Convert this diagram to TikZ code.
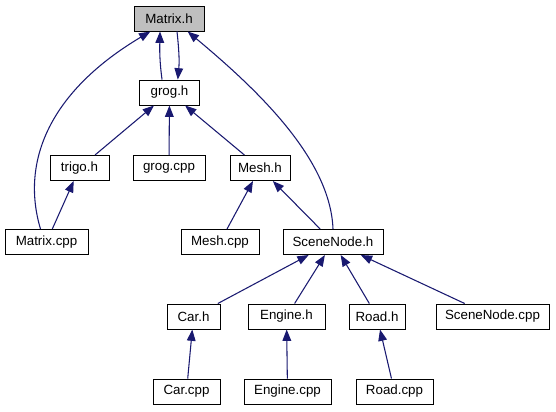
\documentclass[tikz,border=0pt]{standalone}
\usepackage{fontspec}
\setmainfont{Liberation Sans}
\usetikzlibrary{arrows.meta}
\definecolor{edgeblue}{RGB}{25,25,112}
\definecolor{rootgray}{RGB}{191,191,191}
\begin{document}
\begin{tikzpicture}[x=0.75pt,y=-0.75pt,
  file/.style={draw=black,line width=0.75pt,fill=white,inner sep=0pt,
    minimum height=18.75pt,font=\fontsize{10}{12}\selectfont},
  root/.style={file,fill=rootgray},
  dep/.style={draw=edgeblue,line width=0.8pt,
    -{Triangle[length=8.5pt,width=6.5pt]}}]
\useasboundingbox (0,0) rectangle (556,411);

% header files and sources
\node[root,minimum width=52.5pt]  (matrixh)  at (169,18.5)   {Matrix.h};
\node[file,minimum width=45pt]    (grogh)    at (169.5,92.5) {grog.h};
\node[file,minimum width=44.25pt] (trigoh)   at (79.5,168)   {trigo.h};
\node[file,minimum width=54pt]    (grogcpp)  at (169,168)    {grog.cpp};
\node[file,minimum width=45pt]    (meshh)    at (260,168)    {Mesh.h};
\node[file,minimum width=62.25pt] (matrixcpp) at (46.5,242)  {Matrix.cpp};
\node[file,minimum width=58.5pt]  (meshcpp)  at (220,242)    {Mesh.cpp};
\node[file,minimum width=75pt]    (sceneh)   at (333,242)    {SceneNode.h};
\node[file,minimum width=39.75pt] (carh)     at (193.5,316.5) {Car.h};
\node[file,minimum width=57.75pt] (engineh)  at (286.5,316.5) {Engine.h};
\node[file,minimum width=42pt]    (roadh)    at (377,316.5)  {Road.h};
\node[file,minimum width=84.75pt] (scenecpp) at (492.5,316.5) {SceneNode.cpp};
\node[file,minimum width=50.25pt] (carcpp)   at (186.5,391.5) {Car.cpp};
\node[file,minimum width=65.25pt] (enginecpp) at (287.5,391.5) {Engine.cpp};
\node[file,minimum width=57.75pt] (roadcpp)  at (394.5,391.5) {Road.cpp};

% include relations
\draw[dep] ([xshift=-5.6pt]grogh.north) .. controls ([xshift=-7.5pt,yshift=14pt]grogh.north) and ([xshift=-7pt,yshift=-14pt]matrixh.south) .. ([xshift=-6.75pt]matrixh.south);
\draw[dep] ([xshift=6pt]matrixh.south) .. controls ([xshift=7.5pt,yshift=-14pt]matrixh.south) and ([xshift=7.5pt,yshift=14pt]grogh.north) .. ([xshift=6.2pt]grogh.north);
\draw[dep] ([xshift=-4.5pt]matrixcpp.north) .. controls ([xshift=-20pt,yshift=52pt]matrixcpp.north) and ([xshift=-88pt,yshift=-44pt]matrixh.south) .. ([xshift=-14pt]matrixh.south);
\draw[dep] (sceneh.north) .. controls ([xshift=-2pt,yshift=52pt]sceneh.north) and ([xshift=68pt,yshift=-45pt]matrixh.south) .. ([xshift=14pt]matrixh.south);
\draw[dep] (trigoh) -- (grogh);
\draw[dep] (grogcpp) -- (grogh);
\draw[dep] (meshh) -- (grogh);
\draw[dep] (matrixcpp) -- (trigoh);
\draw[dep] (meshcpp) -- (meshh);
\draw[dep] (sceneh) -- (meshh);
\draw[dep] (carh) -- (sceneh);
\draw[dep] (engineh) -- (sceneh);
\draw[dep] (roadh) -- (sceneh);
\draw[dep] (scenecpp) -- (sceneh);
\draw[dep] (carcpp) -- (carh);
\draw[dep] (enginecpp) -- (engineh);
\draw[dep] (roadcpp) -- (roadh);
\end{tikzpicture}
\end{document}
